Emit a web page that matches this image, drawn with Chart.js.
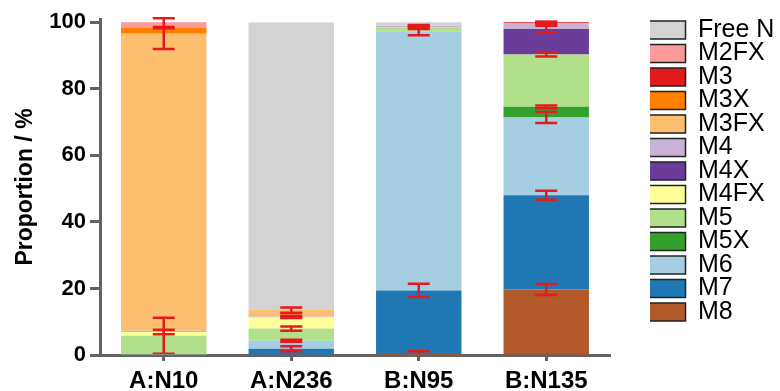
<!DOCTYPE html>
<html>
<head>
<meta charset="utf-8">
<script src="https://cdn.jsdelivr.net/npm/chart.js@4.4.1/dist/chart.umd.min.js"></script>
<style>
  html, body { margin: 0; padding: 0; background: #fff; }
  #wrap { width: 780px; height: 391px; }
</style>
</head>
<body>
<div id="wrap"><canvas id="chart" width="780" height="391"></canvas></div>
<script>
const categories = ['A:N10', 'A:N236', 'B:N95', 'B:N135'];

// mean proportion (%) per category, bottom of the stack first
const m8   = [0,    0,     0.3,  19.7];
const m7   = [0,    1.9,   19.1, 28.3];
const m6   = [0.2,  2.4,   77.9, 23.4];
const m5x  = [0,    0,     0,    3.2];
const m5   = [5.6,  3.65,  1.2,  15.7];
const m4fx = [1.1,  3.3,   0,    0];
const m4x  = [0,    0,     0,    7.7];
const m4   = [0.4,  0.35,  0.5,  1.8];
const m3fx = [89.3, 1.9,   0,    0];
const m3x  = [1.8,  0,     0,    0];
const m3   = [0,    0,     0,    0.2];
const m2fx = [1.6,  0,     0,    0];
const freeN = [0,   86.45, 1.0,  0];

// error (sd) drawn at the top of each segment
const m8Sd   = [0,   0,    0.8,  1.65];
const m7Sd   = [0,   0.75, 2.0,  1.35];
const m6Sd   = [0,   0.3,  1.2,  1.65];
const m5xSd  = [0,   0,    0,    0.4];
const m5Sd   = [5.4, 0.65, 0.5,  0.6];
const m4fxSd = [0.7, 0.15, 0,    0];
const m4xSd  = [0,   0,    0,    1.0];
const m4Sd   = [0,   0.2,  0.2,  0.3];
const m3fxSd = [4.6, 0.8,  0,    0];
const m3xSd  = [0.2, 0,    0,    0];
const m3Sd   = [0,   0,    0,    0.2];
const m2fxSd = [0,   0,    0,    0];
const freeNSd = [0,  0,    0,    0];

const yTicks = [0, 20, 40, 60, 80, 100];

const series = [
  { label: 'M8',     values: m8,    sd: m8Sd,    color: '#b15928' },
  { label: 'M7',     values: m7,    sd: m7Sd,    color: '#1f78b4' },
  { label: 'M6',     values: m6,    sd: m6Sd,    color: '#a6cee3' },
  { label: 'M5X',    values: m5x,   sd: m5xSd,   color: '#33a02c' },
  { label: 'M5',     values: m5,    sd: m5Sd,    color: '#b2df8a' },
  { label: 'M4FX',   values: m4fx,  sd: m4fxSd,  color: '#ffff99' },
  { label: 'M4X',    values: m4x,   sd: m4xSd,   color: '#6a3d9a' },
  { label: 'M4',     values: m4,    sd: m4Sd,    color: '#cab2d6' },
  { label: 'M3FX',   values: m3fx,  sd: m3fxSd,  color: '#fdbf6f' },
  { label: 'M3X',    values: m3x,   sd: m3xSd,   color: '#ff7f00' },
  { label: 'M3',     values: m3,    sd: m3Sd,    color: '#e31a1c' },
  { label: 'M2FX',   values: m2fx,  sd: m2fxSd,  color: '#fb9a99' },
  { label: 'Free N', values: freeN, sd: freeNSd, color: '#d3d3d3' },
];

const axisColor = '#636363';
const errColor = '#e41a1c';

// draws the red error bars on top of every stacked segment
const errorBars = {
  id: 'errorBars',
  afterDatasetsDraw(chart) {
    const { ctx, chartArea, scales: { x, y } } = chart;
    ctx.save();
    ctx.beginPath();
    ctx.rect(chartArea.left, chartArea.top - 2, chartArea.right - chartArea.left, chartArea.bottom - chartArea.top + 1);
    ctx.clip();
    ctx.strokeStyle = errColor;
    ctx.lineWidth = 2.5;
    categories.forEach((c, i) => {
      let top = 0;
      const px = x.getPixelForValue(i);
      series.forEach(s => {
        top += s.values[i];
        if (!s.sd[i]) return;
        const hi = y.getPixelForValue(top + s.sd[i]);
        const lo = y.getPixelForValue(top - s.sd[i]);
        ctx.beginPath();
        ctx.moveTo(px, hi);
        ctx.lineTo(px, lo);
        ctx.moveTo(px - 11, hi);
        ctx.lineTo(px + 11, hi);
        ctx.moveTo(px - 11, lo);
        ctx.lineTo(px + 11, lo);
        ctx.stroke();
      });
    });
    ctx.restore();
  }
};

new Chart(document.getElementById('chart'), {
  type: 'bar',
  data: {
    labels: categories,
    datasets: series.map(s => ({
      label: s.label,
      data: s.values,
      backgroundColor: s.color,
      borderWidth: 0,
      categoryPercentage: 1,
      barPercentage: 0.67,
    })),
  },
  options: {
    responsive: false,
    animation: false,
    layout: { padding: { top: 19, left: 0, right: 0, bottom: 0 } },
    plugins: {
      legend: {
        position: 'right',
        align: 'start',
        reverse: true,
        labels: {
          boxWidth: 37,
          boxHeight: 18,
          padding: -1.5,
          color: '#000',
          font: { family: 'Liberation Sans, Arial, sans-serif', size: 25 },
          generateLabels(chart) {
            const items = Chart.defaults.plugins.legend.labels.generateLabels(chart);
            items.forEach(it => { it.strokeStyle = '#222'; it.lineWidth = 1.5; });
            return items;
          },
        },
      },
      tooltip: { enabled: false },
    },
    scales: {
      x: {
        stacked: true,
        afterFit(s) { s.height = 36; },
        grid: { offset: false, drawOnChartArea: false, tickLength: 6, tickWidth: 3, tickColor: axisColor },
        border: { display: true, color: axisColor, width: 3 },
        ticks: {
          color: '#000',
          padding: 6,
          font: { family: 'Liberation Sans, Arial, sans-serif', size: 24, weight: 'bold' },
        },
      },
      y: {
        stacked: true,
        min: 0,
        max: 101,
        afterFit(s) { s.width = 100; },
        afterBuildTicks(s) { s.ticks = yTicks.map(v => ({ value: v })); },
        grid: { drawOnChartArea: false, tickLength: 10, tickWidth: 3, tickColor: axisColor },
        border: { display: true, color: axisColor, width: 3 },
        ticks: {
          color: '#000',
          padding: 4,
          font: { family: 'Liberation Sans, Arial, sans-serif', size: 22, weight: 'bold' },
        },
        title: {
          display: true,
          text: 'Proportion / %',
          color: '#000',
          padding: { top: 12 },
          font: { family: 'Liberation Sans, Arial, sans-serif', size: 23, weight: 'bold' },
        },
      },
      gap: {
        type: 'linear',
        position: 'right',
        display: true,
        afterFit(s) { s.width = 40; },
        grid: { display: false },
        ticks: { display: false },
        border: { display: false },
      },
    },
  },
  plugins: [errorBars],
});
</script>
</body>
</html>
